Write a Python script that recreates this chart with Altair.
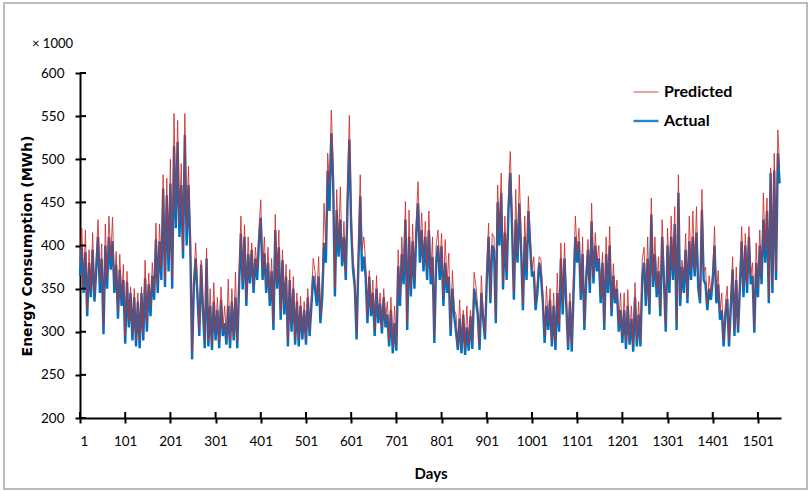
import altair as alt
import pandas as pd

# ---------------- data ----------------
days = list(range(1, 1550, 4))  # one reading every 4 days

actual = [
    365, 398, 345, 392, 318, 380, 340, 395, 335, 372,
    410, 345, 385, 297, 400, 350, 410, 372, 405, 345,
    378, 315, 372, 330, 360, 286, 358, 305, 345, 290,
    340, 283, 335, 281, 345, 290, 362, 300, 355, 318,
    365, 337, 407, 345, 405, 360, 466, 352, 458, 370,
    472, 350, 515, 420, 520, 410, 470, 385, 528, 400,
    470, 400, 268, 355, 385, 340, 295, 378, 325, 281,
    385, 283, 330, 279, 335, 290, 325, 281, 337, 295,
    310, 285, 330, 281, 335, 290, 340, 281, 355, 414,
    349, 410, 330, 390, 356, 395, 345, 385, 360, 405,
    432, 360, 391, 345, 380, 330, 370, 302, 418, 350,
    398, 314, 383, 320, 364, 283, 360, 300, 350, 285,
    335, 283, 330, 291, 325, 285, 340, 295, 330, 365,
    350, 330, 364, 310, 340, 403, 380, 487, 440, 530,
    476, 341, 441, 387, 430, 376, 410, 360, 450, 523,
    420, 372, 352, 291, 380, 457, 370, 387, 364, 310,
    364, 318, 345, 295, 350, 310, 333, 298, 340, 305,
    320, 283, 325, 275, 310, 278, 376, 330, 390, 355,
    430, 302, 410, 341, 405, 350, 415, 449, 380, 418,
    370, 410, 360, 418, 355, 387, 287, 380, 400, 360,
    399, 330, 380, 345, 364, 295, 350, 318, 300, 279,
    315, 275, 320, 273, 305, 278, 318, 280, 350, 335,
    320, 279, 345, 315, 291, 360, 410, 333, 400, 395,
    310, 450, 400, 461, 349, 415, 360, 440, 484, 420,
    337, 430, 380, 449, 395, 325, 410, 360, 440, 400,
    364, 370, 325, 345, 380, 364, 335, 287, 330, 302,
    337, 283, 330, 279, 345, 300, 385, 320, 385, 330,
    279, 335, 277, 345, 410, 380, 405, 337, 390, 302,
    360, 395, 345, 428, 356, 400, 370, 385, 333, 380,
    302, 390, 345, 400, 318, 365, 333, 350, 300, 325,
    287, 325, 280, 330, 285, 315, 277, 340, 283, 320,
    283, 362, 380, 330, 385, 320, 436, 352, 390, 340,
    370, 318, 410, 360, 300, 400, 345, 410, 360, 425,
    302, 461, 330, 375, 345, 395, 333, 405, 360, 410,
    364, 415, 350, 333, 441, 360, 355, 325, 350, 337,
    360, 400, 333, 355, 314, 325, 283, 320, 338, 283,
    330, 372, 295, 360, 299, 350, 405, 340, 400, 345,
    410, 355, 365, 299, 380, 340, 400, 355, 430, 380,
    440, 333, 484, 345, 487, 360, 507, 472,
]

predicted = [
    380, 420, 352, 418, 325, 395, 348, 415, 342, 388,
    430, 355, 402, 305, 425, 362, 434, 385, 433, 352,
    393, 325, 390, 338, 378, 295, 370, 312, 352, 298,
    350, 290, 345, 288, 352, 298, 383, 310, 368, 328,
    380, 345, 426, 355, 425, 372, 482, 360, 478, 385,
    500, 362, 553, 440, 545, 425, 495, 395, 553, 420,
    492, 410, 275, 362, 403, 352, 302, 383, 335, 290,
    397, 290, 350, 285, 357, 298, 340, 288, 352, 302,
    330, 292, 361, 288, 350, 296, 369, 288, 365, 434,
    358, 424, 338, 410, 362, 403, 352, 398, 372, 420,
    453, 372, 410, 352, 398, 338, 385, 310, 436, 358,
    418, 322, 395, 330, 378, 290, 372, 308, 364, 292,
    345, 290, 341, 298, 335, 292, 350, 302, 340, 385,
    370, 340, 387, 318, 360, 449, 395, 507, 470, 557,
    500, 350, 465, 398, 468, 385, 428, 368, 472, 551,
    445, 385, 365, 298, 395, 482, 395, 410, 380, 318,
    371, 325, 360, 302, 365, 318, 345, 305, 350, 312,
    335, 290, 340, 282, 330, 285, 395, 340, 410, 365,
    451, 310, 441, 350, 425, 360, 430, 474, 395, 438,
    380, 428, 372, 440, 365, 410, 295, 400, 418, 372,
    414, 340, 407, 355, 391, 302, 371, 325, 320, 285,
    337, 282, 325, 280, 330, 285, 325, 288, 369, 353,
    330, 285, 365, 322, 298, 372, 426, 340, 414, 410,
    318, 470, 415, 484, 356, 434, 370, 460, 509, 440,
    345, 465, 392, 482, 410, 332, 434, 372, 457, 415,
    372, 387, 332, 360, 387, 383, 345, 295, 353, 310,
    350, 290, 345, 286, 368, 308, 403, 330, 403, 340,
    286, 345, 284, 369, 434, 392, 420, 345, 410, 310,
    372, 407, 355, 449, 365, 415, 382, 400, 340, 392,
    310, 410, 355, 422, 325, 379, 340, 360, 308, 345,
    295, 345, 287, 349, 292, 330, 284, 357, 290, 335,
    290, 383, 398, 340, 410, 328, 455, 360, 410, 350,
    387, 325, 430, 372, 308, 420, 358, 434, 372, 445,
    310, 482, 340, 383, 360, 414, 340, 434, 372, 440,
    372, 445, 360, 340, 465, 370, 375, 332, 365, 345,
    370, 422, 340, 371, 322, 345, 290, 333, 353, 290,
    340, 387, 302, 375, 305, 365, 422, 350, 414, 355,
    422, 365, 380, 305, 403, 352, 418, 365, 461, 395,
    455, 340, 490, 355, 507, 370, 534, 490,
]

series_names = ["Predicted", "Actual"]
series_colors = ["#cc2b2b", "#0070c0"]
series_widths = [1.0, 2.4]

x_ticks = [1, 101, 201, 301, 401, 501, 601, 701, 801, 901, 1001, 1101, 1201, 1301, 1401, 1501]
y_ticks = [200, 250, 300, 350, 400, 450, 500, 550, 600]
x_domain = [1, 1552]
y_domain = [200, 600]

assert len(days) == len(actual) == len(predicted), (len(days), len(actual), len(predicted))

# ---------------- tables ----------------
rows = []
for d, a in zip(days, actual):
    rows.append({"day": d, "value": a, "series": "Actual"})
for d, p in zip(days, predicted):
    rows.append({"day": d, "value": p, "series": "Predicted"})
df = pd.DataFrame(rows)

W, H = 701, 345

xs = alt.Scale(domain=x_domain, nice=False, zero=False)
ys = alt.Scale(domain=y_domain, nice=False, zero=False)

legend = alt.Legend(
    title=None, orient="none", legendX=552, legendY=6,
    symbolType="stroke", symbolSize=625, labelFont="Lato",
    labelFontSize=16, labelFontWeight="bold", labelColor="black",
    labelOffset=4, rowPadding=7, padding=0,
)

color = alt.Color("series:N", scale=alt.Scale(domain=series_names, range=series_colors), legend=legend)
swidth = alt.StrokeWidth("series:N", scale=alt.Scale(domain=series_names, range=series_widths), legend=legend)

x_axis = alt.Axis(
    values=x_ticks, format="d", title="Days", labelPadding=11, titlePadding=19,
    titleFont="Lato", titleFontSize=15, titleFontWeight="bold",
)
y_axis = alt.Axis(
    values=y_ticks, format="d", title="Energy Consumption (MWh)", labelPadding=11, titlePadding=6,
    titleFont="DejaVu Sans", titleFontSize=14, titleFontWeight="bold",
)
x_enc = alt.X("day:Q", scale=xs, axis=x_axis)
y_enc = alt.Y("value:Q", scale=ys, axis=y_axis)

base = alt.Chart(df)

actual_line = base.transform_filter(alt.datum.series == "Actual").mark_line().encode(
    x=x_enc, y=y_enc, color=color, strokeWidth=swidth
)
pred_line = base.transform_filter(alt.datum.series == "Predicted").mark_line(opacity=0.85).encode(
    x=x_enc, y=y_enc, color=color, strokeWidth=swidth
)

# inward half of the crossing tick marks
ytick_in = alt.Chart(pd.DataFrame({"value": y_ticks})).mark_rule(color="black", strokeWidth=2).encode(
    y=y_enc, x=alt.value(0), x2=alt.value(6)
)
xtick_in = alt.Chart(pd.DataFrame({"day": x_ticks})).mark_rule(color="black", strokeWidth=2).encode(
    x=x_enc, y=alt.value(H - 6), y2=alt.value(H)
)

# outer frame and the "x 1000" multiplier note
frame = alt.Chart(pd.DataFrame({"k": [0]})).mark_rect(
    fill="white", fillOpacity=0, stroke="#a6a6a6", strokeWidth=1.5
).encode(x=alt.value(-76), x2=alt.value(727), y=alt.value(-70), y2=alt.value(416))

mult = alt.Chart(pd.DataFrame({"k": [0]})).mark_text(
    text="× 1000", align="left", baseline="middle", font="Lato", fontSize=13, color="black"
).encode(x=alt.value(-48), y=alt.value(-29))

chart = alt.layer(actual_line, pred_line, ytick_in, xtick_in, frame, mult).properties(
    width=W, height=H,
    padding={"left": 80, "top": 73, "right": 31, "bottom": 73},
    autosize=alt.AutoSizeParams(type="none"),
    background="white",
).configure_view(strokeWidth=0).configure_axis(
    grid=False, domainColor="black", domainWidth=2, tickColor="black",
    tickWidth=2, tickSize=5, labelFont="Lato", labelFontSize=13.5,
    labelColor="black", titleColor="black",
)

chart.save("out.html", embed_options={"renderer": "svg", "actions": False})
